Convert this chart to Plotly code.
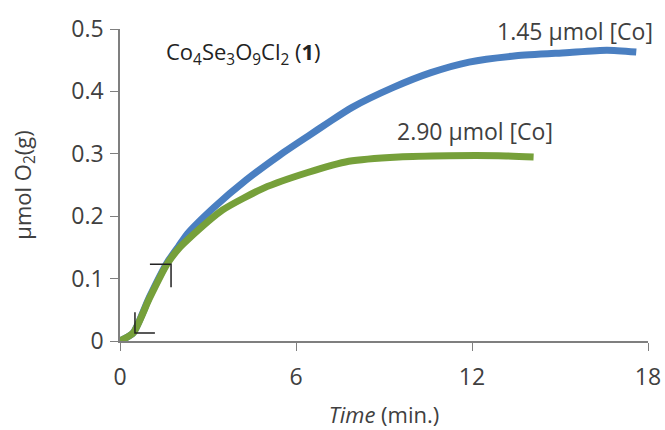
import plotly.graph_objects as go

# Data
blue_time = [0, 0.45, 1.0, 1.6, 2.0, 2.3, 3.2, 4.3, 5.45, 6.4, 7.1, 7.9, 9.3, 10.6, 11.9, 13.5, 15.2, 16.6, 17.6]
blue_o2 = [0, 0.013, 0.07, 0.125, 0.152, 0.172, 0.214, 0.258, 0.298, 0.328, 0.35, 0.374, 0.406, 0.43, 0.447, 0.457, 0.462, 0.466, 0.463]

green_time = [0, 0.45, 1.0, 1.6, 2.0, 2.3, 3.5, 4.9, 6.4, 7.8, 9.5, 11.2, 12.9, 14.1]
green_o2 = [0, 0.013, 0.068, 0.123, 0.148, 0.162, 0.21, 0.245, 0.27, 0.288, 0.295, 0.297, 0.297, 0.295]

# lag-time construction marks (L shapes)
mark1_x = [0.51, 0.51, 1.19]
mark1_y = [0.046, 0.013, 0.013]
mark2_x = [1.02, 1.74, 1.74]
mark2_y = [0.123, 0.123, 0.086]

x_ticks = [0, 6, 12, 18]
y_ticks = [0, 0.1, 0.2, 0.3, 0.4, 0.5]
y_tick_text = ["0", "0.1", "0.2", "0.3", "0.4", "0.5"]

FONT = "'Open Sans', sans-serif"
TXT = "#404040"

fig = go.Figure()
fig.add_trace(go.Scatter(x=blue_time, y=blue_o2, mode="lines",
                         line=dict(color="#4a7fc1", width=7, shape="spline", smoothing=0.6),
                         showlegend=False))
fig.add_trace(go.Scatter(x=green_time, y=green_o2, mode="lines",
                         line=dict(color="#76a03a", width=7, shape="spline", smoothing=0.6),
                         showlegend=False))
fig.add_trace(go.Scatter(x=mark1_x, y=mark1_y, mode="lines",
                         line=dict(color="#222222", width=1.5), showlegend=False))
fig.add_trace(go.Scatter(x=mark2_x, y=mark2_y, mode="lines",
                         line=dict(color="#222222", width=1.5), showlegend=False))

fig.add_annotation(x=15.5, y=0.497, text="1.45 μmol [Co]", showarrow=False,
                   font=dict(family=FONT, size=23, color=TXT))
fig.add_annotation(x=12.1, y=0.336, text="2.90 μmol [Co]", showarrow=False,
                   font=dict(family=FONT, size=23, color=TXT))
fig.add_annotation(x=4.2, y=0.461,
                   text="Co<sub>4</sub>Se<sub>3</sub>O<sub>9</sub>Cl<sub>2</sub> (<b>1</b>)",
                   showarrow=False, font=dict(family=FONT, size=22, color="#222222"))

fig.update_layout(
    width=665, height=430,
    margin=dict(l=120, r=17, t=29, b=89),
    plot_bgcolor="white", paper_bgcolor="white",
    font=dict(family=FONT, size=22, color=TXT),
    xaxis=dict(range=[0, 18], tickvals=x_ticks, ticks="outside", ticklen=8,
               tickcolor="#7f7f7f", showline=True, linecolor="#7f7f7f", linewidth=1.5,
               showgrid=False, zeroline=False, ticklabelstandoff=7, automargin=False,
               title=dict(text="<i>Time</i> (min.)", font=dict(size=22), standoff=16),
               tickfont=dict(size=23)),
    yaxis=dict(range=[0, 0.5], tickvals=y_ticks, ticktext=y_tick_text, ticks="outside",
               ticklen=8, tickcolor="#7f7f7f", showline=True, linecolor="#7f7f7f",
               linewidth=1.5, showgrid=False, zeroline=False, ticklabelstandoff=2,
               automargin=False,
               title=dict(text="μmol O<sub>2</sub>(g)", font=dict(size=22), standoff=34),
               tickfont=dict(size=23)),
)

fig.write_html("out.html", config={"displayModeBar": False},
               post_script="document.body.style.margin='0px';document.body.style.overflow='hidden';")
